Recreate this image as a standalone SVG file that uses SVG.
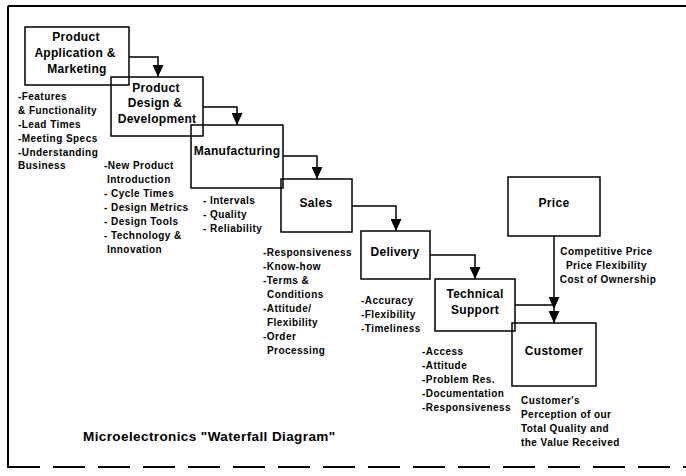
<svg xmlns="http://www.w3.org/2000/svg" width="686" height="476" viewBox="0 0 686 476">
  <style>
    .box { fill: none; stroke: #000; stroke-width: 1.5; }
    .wire { fill: none; stroke: #000; stroke-width: 1.5; }
    .frame { fill: none; stroke: #000; stroke-width: 2; }
    .lbl { font-family: "Liberation Sans", Arial, sans-serif; font-weight: bold; font-size: 12px; text-anchor: middle; fill: #000; letter-spacing: 0.3px; }
    .note { font-family: "Liberation Sans", Arial, sans-serif; font-weight: bold; font-size: 10px; fill: #000; letter-spacing: 0.45px; }
    .title { font-family: "Liberation Sans", Arial, sans-serif; font-weight: bold; font-size: 13.5px; fill: #000; letter-spacing: 0.4px; }
  </style>
  <defs>
    <marker id="arrow" viewBox="0 0 12 11" refX="12" refY="5.5" markerWidth="12" markerHeight="11" markerUnits="userSpaceOnUse" orient="auto">
      <path d="M0,0 L12,5.5 L0,11 z" fill="#000"/>
    </marker>
  </defs>

  <rect width="686" height="476" fill="#fff"/>

  <!-- page frame: solid top and left, dashed bottom -->
  <g id="frame">
    <path class="frame" d="M8,6 H686 M8,6 V468"/>
    <path class="frame" d="M8,467 H686" stroke-dasharray="32 13"/>
  </g>

  <!-- waterfall connectors -->
  <g id="connectors">
    <path class="wire" d="M129,57 H158 V77" marker-end="url(#arrow)"/>
    <path class="wire" d="M203,107 H237 V125" marker-end="url(#arrow)"/>
    <path class="wire" d="M283,156 H317 V179" marker-end="url(#arrow)"/>
    <path class="wire" d="M352,206 H396 V231" marker-end="url(#arrow)"/>
    <path class="wire" d="M430,255 H475 V279" marker-end="url(#arrow)"/>
    <path class="wire" d="M554,236 V309" marker-end="url(#arrow)"/>
    <path class="wire" d="M515,305 H554"/>
    <path class="wire" d="M554,309 V323" marker-end="url(#arrow)"/>
  </g>

  <g id="product-application">
    <rect class="box" x="25" y="27" width="104" height="58"/>
    <text class="lbl" x="76" y="41">Product</text>
    <text class="lbl" x="75" y="57">Application &amp;</text>
    <text class="lbl" x="77" y="73">Marketing</text>
    <text class="note" x="18" y="100">
      <tspan x="18">-Features</tspan>
      <tspan x="18" dy="14">&amp; Functionality</tspan>
      <tspan x="18" dy="13.5">-Lead Times</tspan>
      <tspan x="18" dy="14">-Meeting Specs</tspan>
      <tspan x="18" dy="14">-Understanding</tspan>
      <tspan x="18" dy="13.5">Business</tspan>
    </text>
  </g>

  <g id="product-design">
    <rect class="box" x="111" y="77" width="92" height="59"/>
    <text class="lbl" x="156" y="92">Product</text>
    <text class="lbl" x="155" y="107">Design &amp;</text>
    <text class="lbl" x="157" y="123">Development</text>
    <text class="note" x="104" y="169">
      <tspan x="104">-New Product</tspan>
      <tspan x="107" dy="14">Introduction</tspan>
      <tspan x="104" dy="14">- Cycle Times</tspan>
      <tspan x="104" dy="14">- Design Metrics</tspan>
      <tspan x="104" dy="14">- Design Tools</tspan>
      <tspan x="104" dy="14">- Technology &amp;</tspan>
      <tspan x="107" dy="14">Innovation</tspan>
    </text>
  </g>

  <g id="manufacturing">
    <rect class="box" x="191" y="125" width="92" height="63"/>
    <text class="lbl" x="237" y="155">Manufacturing</text>
    <text class="note" x="203" y="204">
      <tspan x="203">- Intervals</tspan>
      <tspan x="203" dy="14">- Quality</tspan>
      <tspan x="203" dy="14">- Reliability</tspan>
    </text>
  </g>

  <g id="sales">
    <rect class="box" x="281" y="179" width="71" height="53"/>
    <text class="lbl" x="316" y="207">Sales</text>
    <text class="note" x="263" y="256">
      <tspan x="263">-Responsiveness</tspan>
      <tspan x="263" dy="13.5">-Know-how</tspan>
      <tspan x="263" dy="14">-Terms &amp;</tspan>
      <tspan x="267" dy="14">Conditions</tspan>
      <tspan x="263" dy="14">-Attitude/</tspan>
      <tspan x="267" dy="14">Flexibility</tspan>
      <tspan x="263" dy="14">-Order</tspan>
      <tspan x="267" dy="14">Processing</tspan>
    </text>
  </g>

  <g id="delivery">
    <rect class="box" x="361" y="231" width="69" height="48"/>
    <text class="lbl" x="395" y="256">Delivery</text>
    <text class="note" x="361" y="304">
      <tspan x="361">-Accuracy</tspan>
      <tspan x="361" dy="14">-Flexibility</tspan>
      <tspan x="361" dy="14">-Timeliness</tspan>
    </text>
  </g>

  <g id="technical-support">
    <rect class="box" x="435" y="279" width="80" height="52"/>
    <text class="lbl" x="475" y="298">Technical</text>
    <text class="lbl" x="475" y="314">Support</text>
    <text class="note" x="422" y="355">
      <tspan x="422">-Access</tspan>
      <tspan x="422" dy="14">-Attitude</tspan>
      <tspan x="422" dy="14">-Problem Res.</tspan>
      <tspan x="422" dy="14">-Documentation</tspan>
      <tspan x="422" dy="13.5">-Responsiveness</tspan>
    </text>
  </g>

  <g id="price">
    <rect class="box" x="508" y="177" width="92" height="59"/>
    <text class="lbl" x="554" y="207">Price</text>
    <text class="note" x="608" y="255" text-anchor="middle">
      <tspan x="608">Competitive Price</tspan>
      <tspan x="608" dy="13.5">Price Flexibility</tspan>
      <tspan x="608" dy="14.5">Cost of Ownership</tspan>
    </text>
  </g>

  <g id="customer">
    <rect class="box" x="512" y="323" width="84" height="63"/>
    <text class="lbl" x="554" y="355">Customer</text>
    <text class="note" x="521" y="404">
      <tspan x="521">Customer's</tspan>
      <tspan x="521" dy="14">Perception of our</tspan>
      <tspan x="521" dy="14">Total Quality and</tspan>
      <tspan x="521" dy="13.5">the Value Received</tspan>
    </text>
  </g>

  <text class="title" x="83" y="441">Microelectronics "Waterfall Diagram"</text>
</svg>
